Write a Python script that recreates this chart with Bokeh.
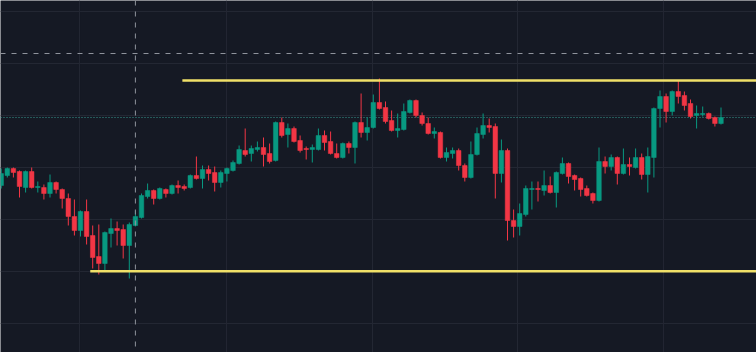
from bokeh.plotting import figure
from bokeh.models import Range1d, Span, ColumnDataSource
from bokeh.embed import file_html
from bokeh.resources import INLINE

# ---- data (price units, one entry per candle) ----
opens = [167,177,184,181,165,181,165,165,159,170,
         163,154,136,122,141,117,96,89,119,124,
         123,107,127,135,156,162,154,163,159,167,
         166,165,177,174,183,180,170,179,182,189,
         202,199,203,205,199,192,230,218,224,212,
         204,203,203,217,211,199,195,209,205,230,
         220,225,250,245,232,222,223,240,252,237,
         229,219,220,195,199,202,187,175,198,218,
         227,226,179,202,132,126,138,163,164,162,
         167,160,179,189,177,174,164,159,152,191,
         186,195,179,188,185,195,178,195,244,256,
         241,261,257,249,237,238,239,235,229]
highs = [184,185,185,182,182,185,171,168,178,171,
         164,159,153,142,153,127,128,121,134,131,
         128,130,142,159,169,163,165,164,168,172,
         168,178,196,187,187,186,182,185,192,207,
         224,207,211,215,209,231,235,229,226,217,
         206,208,224,222,221,209,210,211,231,259,
         235,258,274,251,242,239,249,253,253,240,
         235,225,221,205,205,204,189,211,225,239,
         234,229,213,204,143,149,167,171,171,182,
         176,181,195,190,178,175,167,160,205,196,
         198,196,204,195,204,199,205,245,262,259,
         262,272,261,253,247,246,240,236,245]
lows = [164,175,175,155,160,164,160,153,155,159,
        144,127,117,116,108,84,78,81,105,107,
        94,74,126,134,154,148,153,155,158,159,
        162,164,173,164,172,161,165,171,181,188,
        196,191,201,186,189,191,215,205,210,200,
        193,190,202,202,198,194,194,199,189,215,
        212,224,243,229,221,215,222,239,235,227,
        218,214,194,191,194,182,171,174,197,214,
        220,154,170,112,115,117,136,143,151,157,
        159,145,178,169,162,156,156,149,151,179,
        182,168,178,177,184,173,160,175,225,230,
        237,249,242,234,224,236,233,226,228]
closes = [179,184,180,166,181,165,166,159,170,163,
          154,136,122,141,116,95,89,120,124,122,
          107,128,136,157,162,154,164,159,167,165,
          164,177,174,183,179,170,180,184,190,203,
          198,204,205,198,191,230,217,224,211,202,
          203,205,217,210,199,195,209,205,230,220,
          225,250,244,231,222,224,241,252,237,229,
          219,221,195,200,202,187,175,198,219,227,
          225,179,202,132,126,139,164,164,163,167,
          160,180,189,176,173,163,157,152,191,186,
          195,179,188,186,195,178,196,244,256,241,
          261,256,247,236,239,239,234,229,235]

# horizontal rays drawn on the chart: level and first candle index
ray_levels = [272, 81.3]
ray_starts = [29.7, 14.6]
price_line_level = 235          # last close
crosshair_price = 299
crosshair_index = 22
grid_prices = [341, 289, 237, 185, 133, 81, 29]
grid_indexes = [12.84, 36.93, 60.87, 84.64, 108.57]

# ---- styles ----
BG = "#151924"
GRID = "#232733"
UP = "#089981"
DOWN = "#f23645"
RAY = "#f0e068"
CROSS = "#8f939c"

n = len(opens)
idx = list(range(n))
colors = [UP if c >= o else DOWN for o, c in zip(opens, closes)]
src = ColumnDataSource(dict(
    x=idx, o=opens, h=highs, l=lows, c=closes,
    top=[max(o, c) for o, c in zip(opens, closes)],
    bottom=[min(o, c) for o, c in zip(opens, closes)],
    color=colors,
))

W, H = 756, 352
p = figure(width=W, height=H, output_backend="svg", toolbar_location=None,
           x_range=Range1d(-0.115, -0.115 + W / 6.1), y_range=Range1d(0, H),
           x_axis_type=None, y_axis_type=None, min_border=0,
           background_fill_color=BG, border_fill_color=BG)
p.outline_line_color = None
p.grid.visible = False

for g in grid_prices:
    p.add_layout(Span(location=g, dimension="width", line_color=GRID,
                      line_width=1, level="underlay"))
for g in grid_indexes:
    p.add_layout(Span(location=g, dimension="height", line_color=GRID,
                      line_width=1, level="underlay"))

# price line (dotted)
p.add_layout(Span(location=price_line_level, dimension="width",
                  line_color="#3aa79b", line_alpha=0.9, line_width=1,
                  line_dash="1 2", level="underlay"))

# candles
p.segment(x0="x", x1="x", y0="l", y1="h", color="color", line_width=1, source=src)
p.vbar(x="x", width=0.75, top="top", bottom="bottom", fill_color="color",
       line_color="color", line_width=0.5, source=src)

# horizontal rays
ray_src = ColumnDataSource(dict(x0=ray_starts, x1=[200] * len(ray_starts),
                                y=ray_levels))
p.segment(x0="x0", x1="x1", y0="y", y1="y", line_color=RAY, line_width=2.4,
          source=ray_src)

# crosshair
p.add_layout(Span(location=crosshair_price, dimension="width", line_color=CROSS,
                  line_width=1, line_dash="5 6"))
p.add_layout(Span(location=crosshair_index, dimension="height", line_color=CROSS,
                  line_width=1, line_dash="5 6"))

open("out.html", "w").write(file_html(p, INLINE))
